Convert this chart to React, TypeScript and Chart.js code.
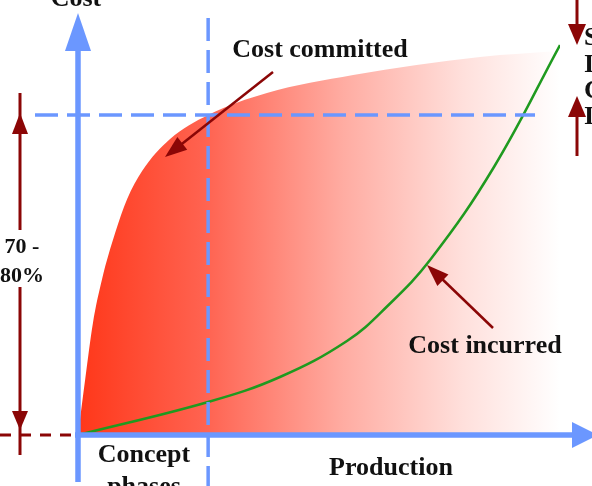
import React, { useEffect, useRef } from "react";
import { Chart, registerables } from "chart.js";

Chart.register(...registerables);

// Project life (% of timeline) vs cost (% of total)
const committedX = [0, 1.5, 3.1, 5.0, 7.7, 10.2, 13.3, 19.1, 27, 39.2, 57.1, 83.4, 100];
const committedY = [0, 14, 28, 39, 50.5, 59, 66, 74, 80, 85.5, 90, 94.5, 96];
const incurredX = [0, 27, 41.9, 55.8, 64, 73.2, 86.3, 100];
const incurredY = [0, 8.25, 14.5, 23.5, 32, 44, 67, 97.5];

const conceptEnd = 27;
const committedLevel = 80;

const BLUE = "#6b97ff";
const DARK_RED = "#8b0606";
const GREEN = "#1f9a1f";
const FONT = '"Liberation Serif", "Times New Roman", serif';

function head(ctx: CanvasRenderingContext2D, tipX: number, tipY: number, fromX: number, fromY: number, len: number, halfW: number, color: string) {
  const a = Math.atan2(tipY - fromY, tipX - fromX);
  const bx = tipX - len * Math.cos(a);
  const by = tipY - len * Math.sin(a);
  const px = -Math.sin(a) * halfW;
  const py = Math.cos(a) * halfW;
  ctx.beginPath();
  ctx.moveTo(tipX, tipY);
  ctx.lineTo(bx + px, by + py);
  ctx.lineTo(bx - px, by - py);
  ctx.closePath();
  ctx.fillStyle = color;
  ctx.fill();
}

function line(ctx: CanvasRenderingContext2D, x1: number, y1: number, x2: number, y2: number, color: string, w: number, dash: number[] = []) {
  ctx.save();
  ctx.beginPath();
  ctx.setLineDash(dash);
  ctx.strokeStyle = color;
  ctx.lineWidth = w;
  ctx.moveTo(x1, y1);
  ctx.lineTo(x2, y2);
  ctx.stroke();
  ctx.restore();
}

function text(ctx: CanvasRenderingContext2D, s: string, x: number, y: number, size: number, align: CanvasTextAlign = "center") {
  ctx.save();
  ctx.font = `bold ${size}px ${FONT}`;
  ctx.fillStyle = "#111";
  ctx.textAlign = align;
  ctx.textBaseline = "alphabetic";
  ctx.fillText(s, x, y);
  ctx.restore();
}

const overlay = {
  id: "overlay",
  afterDatasetsDraw(chart: any) {
    const ctx: CanvasRenderingContext2D = chart.ctx;
    const xs = chart.scales.x;
    const ys = chart.scales.y;
    const ox = xs.getPixelForValue(0);
    const oy = ys.getPixelForValue(0);
    const cx = xs.getPixelForValue(conceptEnd);
    const ly = ys.getPixelForValue(committedLevel);

    // blue dashed guides
    line(ctx, 35, ly, 535, ly, BLUE, 3.5, [23, 9]);
    line(ctx, cx, 18, cx, 486, BLUE, 3.5, [23, 9]);

    // axes with arrows
    line(ctx, ox, 482, ox, 48, BLUE, 5.5);
    head(ctx, ox, 13, ox, 50, 38, 13, BLUE);
    line(ctx, ox - 3, oy, 574, oy, BLUE, 5.5);
    head(ctx, 598, oy, 560, oy, 26, 13, BLUE);

    // red dashed baseline
    line(ctx, 0, oy, ox - 4, oy, DARK_RED, 3, [11, 9]);

    // left 70-80% dimension arrow
    line(ctx, 20, 93, 20, 230, DARK_RED, 3);
    line(ctx, 20, 287, 20, 455, DARK_RED, 3);
    head(ctx, 20, ly - 2, 20, 200, 21, 8, DARK_RED);
    head(ctx, 20, 430, 20, 300, 19, 8, DARK_RED);

    // right dimension arrows
    line(ctx, 577, 0, 577, 30, DARK_RED, 3);
    head(ctx, 577, 45, 577, 0, 21, 9, DARK_RED);
    line(ctx, 577, 110, 577, 156, DARK_RED, 3);
    head(ctx, 577, 96, 577, 156, 21, 9, DARK_RED);

    // pointer arrows
    line(ctx, 273, 72, 178, 147, DARK_RED, 2.5);
    head(ctx, 165, 157, 273, 72, 22, 8, DARK_RED);
    line(ctx, 493, 328, 439, 276, DARK_RED, 2.5);
    head(ctx, 427, 265, 493, 328, 22, 8, DARK_RED);

    // texts
    text(ctx, "Cost", 76, 6, 26);
    text(ctx, "Cost committed", 320, 57, 26);
    text(ctx, "Cost incurred", 485, 353, 26);
    text(ctx, "Production", 391, 475, 26);
    text(ctx, "Concept", 144, 462, 26);
    text(ctx, "phases", 144, 494, 26);
    text(ctx, "70 -", 22, 253, 22);
    text(ctx, "80%", 22, 282, 22);
    text(ctx, "S", 584, 45, 26, "left");
    text(ctx, "I", 584, 72, 26, "left");
    text(ctx, "C", 584, 98, 26, "left");
    text(ctx, "I", 584, 124, 26, "left");
  },
};

export default function App() {
  const ref = useRef<HTMLCanvasElement>(null);
  useEffect(() => {
    document.body.style.margin = "0";
    const canvas = ref.current!;
    const chart = new Chart(canvas, {
      type: "line",
      data: {
        datasets: [
          {
            label: "Cost committed",
            data: committedX.map((x, i) => ({ x, y: committedY[i] })),
            borderWidth: 0,
            pointRadius: 0,
            cubicInterpolationMode: "monotone",
            fill: "origin",
            backgroundColor: (c: any) => {
              const area = c.chart.chartArea;
              if (!area) return "rgba(255,60,30,1)";
              const g = c.chart.ctx.createLinearGradient(area.left, 0, area.right, 0);
              g.addColorStop(0, "rgb(255,55,25)");
              g.addColorStop(0.27, "rgb(255,100,82)");
              g.addColorStop(0.55, "rgb(255,172,162)");
              g.addColorStop(0.8, "rgb(255,224,220)");
              g.addColorStop(1, "rgb(255,255,255)");
              return g;
            },
            order: 2,
          },
          {
            label: "Cost incurred",
            data: incurredX.map((x, i) => ({ x, y: incurredY[i] })),
            borderColor: GREEN,
            borderWidth: 2.5,
            pointRadius: 0,
            tension: 0.4,
            fill: false,
            order: 1,
          },
        ],
      },
      options: {
        animation: false,
        responsive: false,
        layout: { padding: { left: 78, right: 32, top: 35, bottom: 51 } },
        plugins: { legend: { display: false }, tooltip: { enabled: false } },
        scales: {
          x: { type: "linear", min: 0, max: 100, display: false },
          y: { type: "linear", min: 0, max: 100, display: false },
        },
      },
      plugins: [overlay],
    });
    return () => chart.destroy();
  }, []);
  return (
    <div style={{ position: "absolute", left: 0, top: 0, width: 592, height: 486, overflow: "hidden", background: "#fff" }}>
      <canvas ref={ref} width={592} height={486} />
    </div>
  );
}
